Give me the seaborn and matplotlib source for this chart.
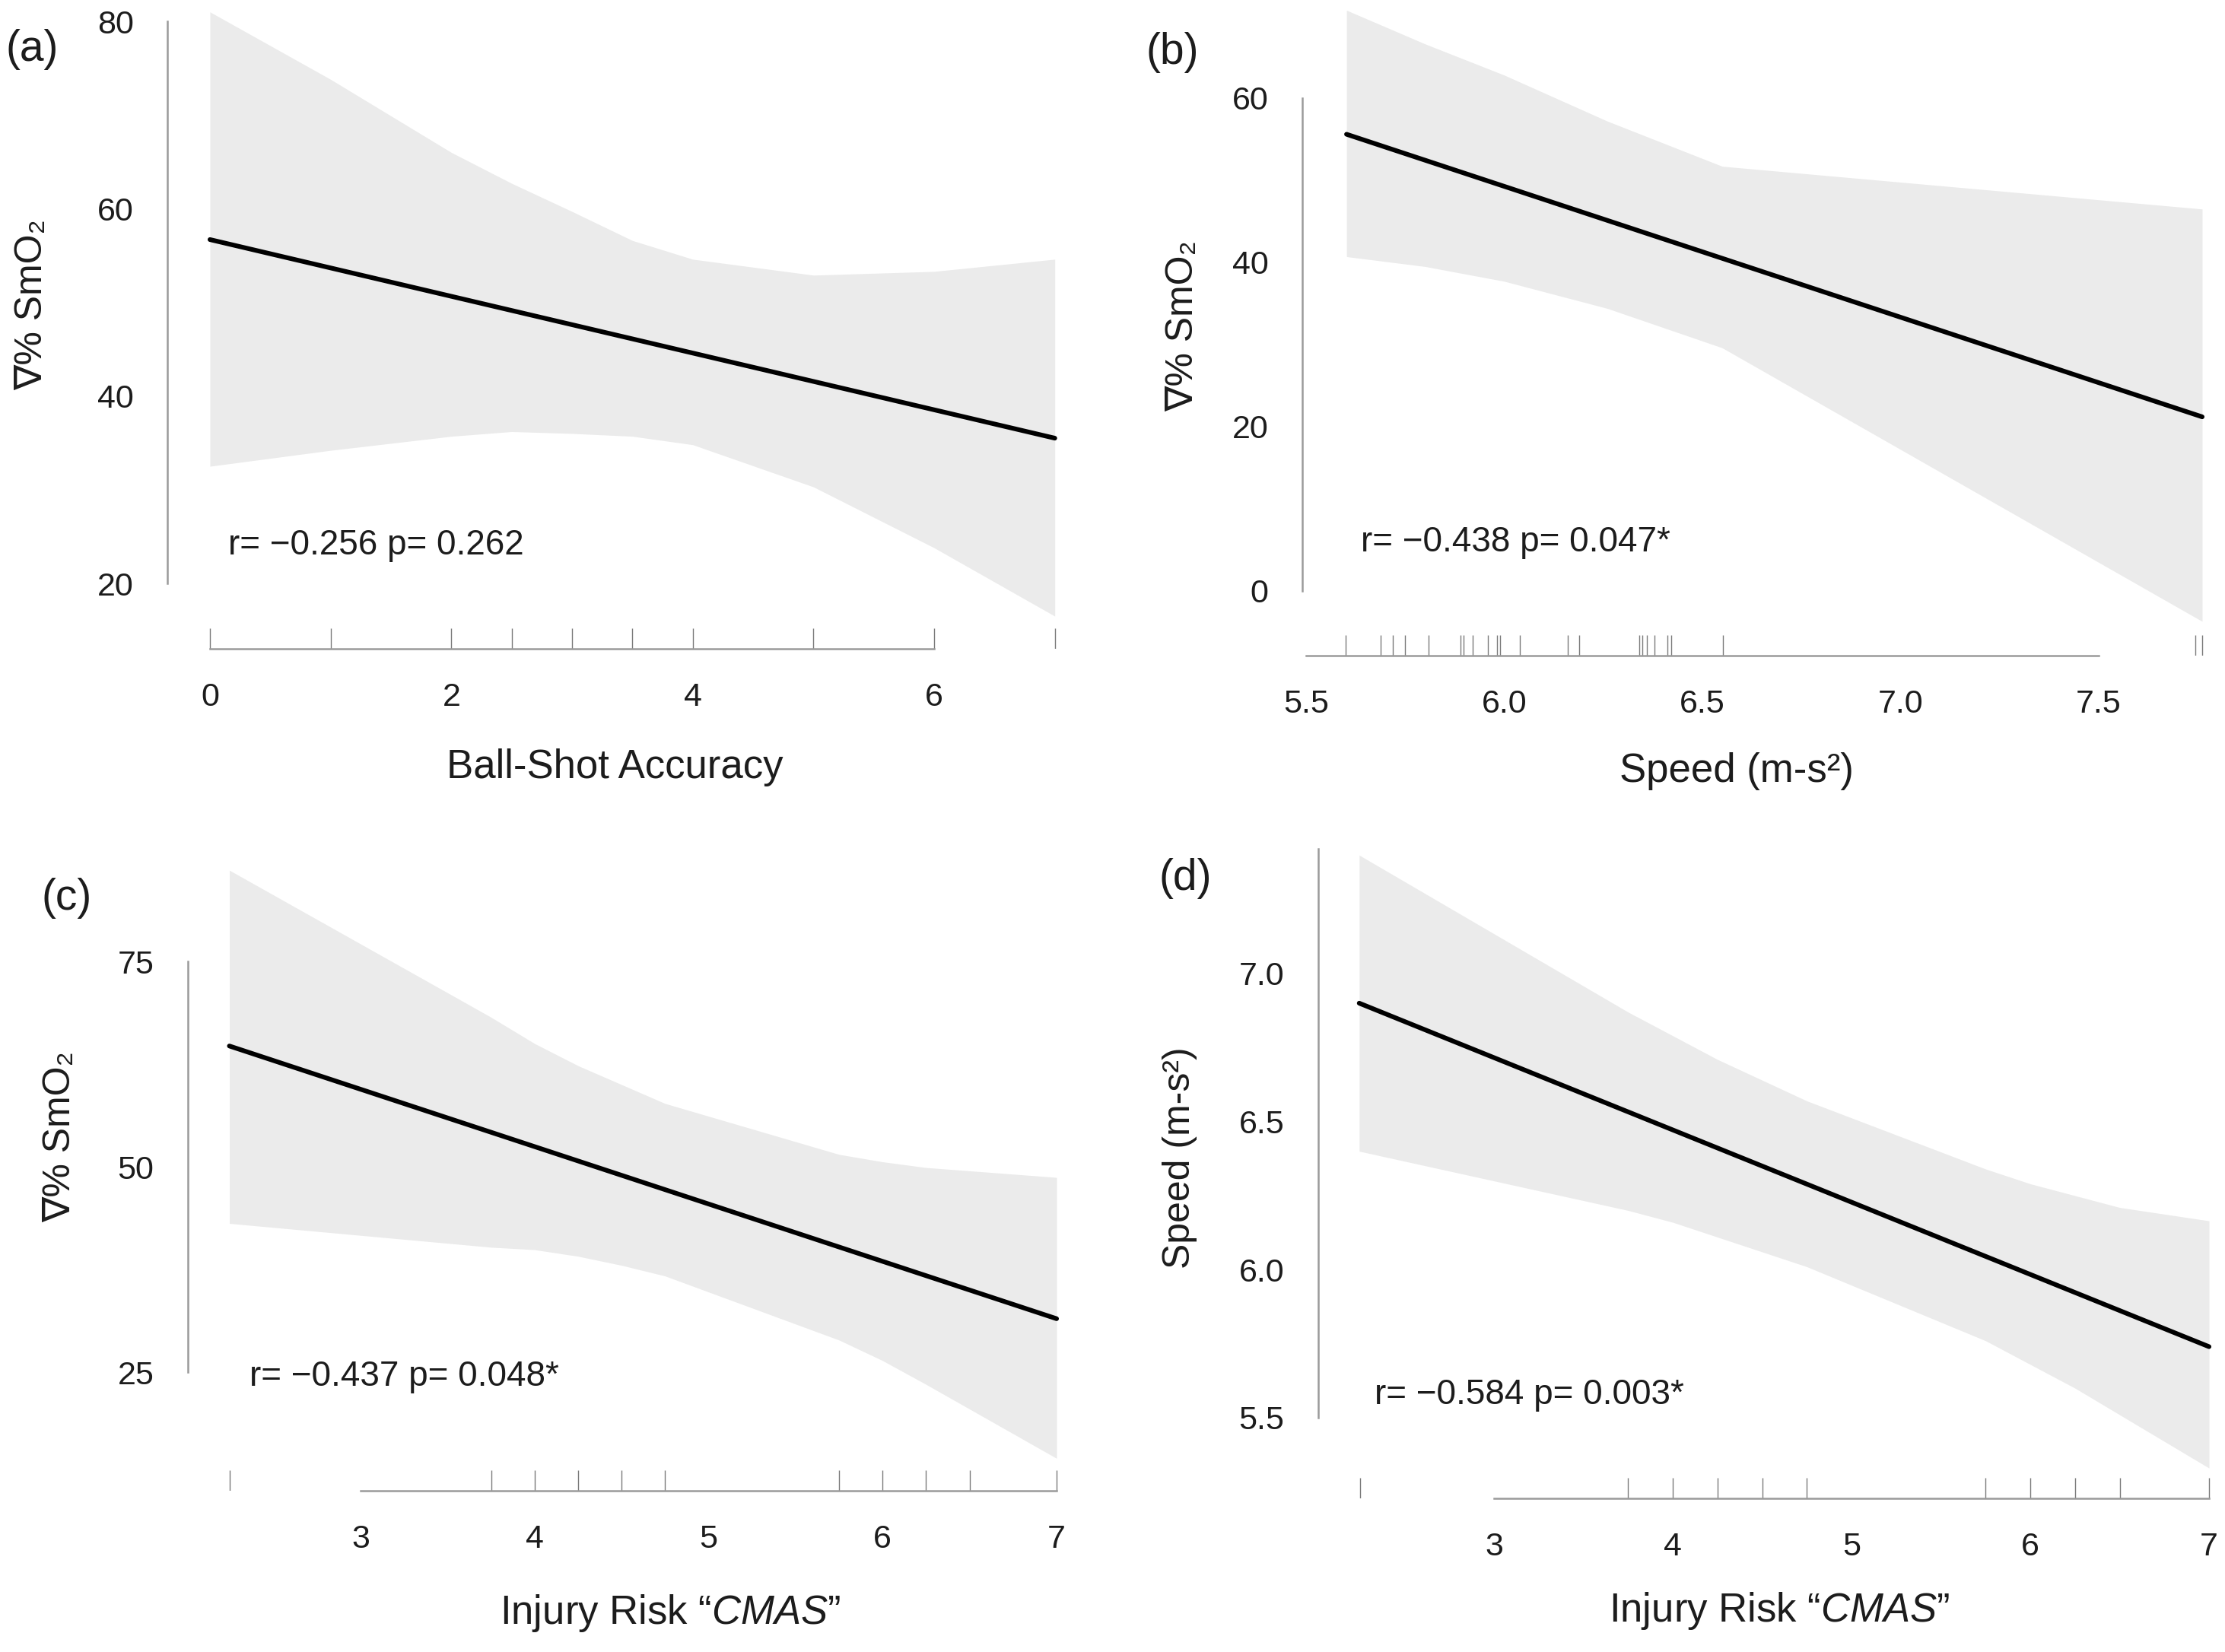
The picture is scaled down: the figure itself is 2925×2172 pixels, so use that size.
import numpy as np
import matplotlib
matplotlib.use("Agg")
import matplotlib.pyplot as plt
import seaborn as sns

# ---- data ----
# (a) Ball-Shot Accuracy vs dSmO2
a_rug = [0, 1, 2, 2.5, 3, 3.5, 4, 5, 6, 7]
a_line_x = [0, 7]
a_line_y = [56.7, 35.5]
a_band_x = [0, 1, 2, 2.5, 3, 3.5, 4, 5, 6, 7]
a_band_lo = [32.5, 34.2, 35.7, 36.2, 36.0, 35.7, 34.8, 30.3, 23.8, 16.5]
a_band_hi = [81.0, 73.8, 66.0, 62.7, 59.7, 56.6, 54.6, 52.9, 53.3, 54.6]

# (b) Speed vs dSmO2
b_rug = [5.600, 5.689, 5.718, 5.749, 5.809, 5.890, 5.898, 5.920, 5.959, 5.981,
         5.990, 6.040, 6.160, 6.189, 6.340, 6.349, 6.360, 6.380, 6.411, 6.421,
         6.552, 7.744, 7.761]
b_line_x = [5.602, 7.761]
b_line_y = [55.6, 21.2]
b_band_x = [5.602, 5.8, 6.0, 6.26, 6.55, 7.761]
b_band_lo = [40.7, 39.5, 37.7, 34.4, 29.6, -3.7]
b_band_hi = [70.7, 66.6, 62.8, 57.2, 51.7, 46.5]

# (c) CMAS vs dSmO2
cmas_rug = [2.25, 3.75, 4, 4.25, 4.5, 4.75, 5.75, 6, 6.25, 6.5, 7]
c_line_x = [2.246, 7]
c_line_y = [64.7, 31.5]
c_band_x = [2.246, 3.75, 4, 4.25, 4.5, 4.75, 5.75, 6, 6.25, 6.5, 7]
c_band_lo = [43.1, 40.2, 39.9, 39.1, 38.0, 36.7, 28.9, 26.4, 23.5, 20.5, 14.5]
c_band_hi = [86.1, 68.2, 65.0, 62.3, 60.0, 57.7, 51.5, 50.6, 49.9, 49.5, 48.7]

# (d) CMAS vs Speed
d_line_x = [2.246, 7]
d_line_y = [6.90, 5.74]
d_band_x = [2.246, 3.75, 4, 4.25, 4.5, 4.75, 5.75, 6, 6.25, 6.5, 7]
d_band_lo = [6.40, 6.20, 6.16, 6.11, 6.06, 6.01, 5.76, 5.68, 5.60, 5.51, 5.33]
d_band_hi = [7.40, 6.87, 6.79, 6.71, 6.64, 6.57, 6.34, 6.29, 6.25, 6.21, 6.165]

stats = ["r= \u22120.256 p= 0.262", "r= \u22120.438 p= 0.047*",
         "r= \u22120.437 p= 0.048*", "r= \u22120.584 p= 0.003*"]
xlabels = ["Ball-Shot Accuracy", "Speed (m-s\u00b2)",
           "Injury Risk \u201c$\\mathit{CMAS}$\u201d", "Injury Risk \u201c$\\mathit{CMAS}$\u201d"]
ylabels = ["\u2207% SmO\u2082", "\u2207% SmO\u2082", "\u2207% SmO\u2082", "Speed (m-s\u00b2)"]
letters = ["(a)", "(b)", "(c)", "(d)"]

sns.set_theme(style="white")
plt.rcParams["font.family"] = ["Liberation Sans", "DejaVu Sans"]
plt.rcParams["mathtext.fontset"] = "custom"
plt.rcParams["mathtext.rm"] = "Liberation Sans"
plt.rcParams["mathtext.it"] = "Liberation Sans:italic"

W, H = 2925, 2172
fig = plt.figure(figsize=(W / 100, H / 100), dpi=100)
fig.patch.set_facecolor("white")

AXC = "#9a9a9a"
TXT = "#1c1c1c"


def add_panel(box, xref, yref):
    # box = left, right, top, bottom in pixels; refs map values to pixels
    left, right, top, bottom = box
    (xv1, xp1), (xv2, xp2) = xref
    sx = (xp2 - xp1) / (xv2 - xv1)
    (yv1, yp1), (yv2, yp2) = yref
    sy = (yp2 - yp1) / (yv2 - yv1)
    ax = fig.add_axes([left / W, 1 - bottom / H, (right - left) / W, (bottom - top) / H])
    ax.set_xlim(xv1 + (left - xp1) / sx, xv1 + (right - xp1) / sx)
    ax.set_ylim(yv1 + (bottom - yp1) / sy, yv1 + (top - yp1) / sy)
    return ax, 27 / (bottom - top)


def draw(ax, rugh, bx, lo, hi, lx, ly, rug, xticks, yticks, ybounds, xfmt, yfmt):
    lims = ax.get_xlim(), ax.get_ylim()
    ax.fill_between(bx, lo, hi, color="#ebebeb", lw=0)
    sns.lineplot(x=lx, y=ly, ax=ax, color="black", lw=4.4)
    sns.rugplot(x=rug, ax=ax, height=rugh, color="#4d4d4d", alpha=0.75,
                lw=2.4, expand_margins=False)
    ax.set_xlim(lims[0])
    ax.set_ylim(lims[1])
    ax.set_xticks(xticks)
    ax.set_yticks(yticks)
    ax.set_xticklabels([xfmt.format(v) for v in xticks])
    ax.set_yticklabels([yfmt.format(v) for v in yticks])
    for s in ["top", "right"]:
        ax.spines[s].set_visible(False)
    for s in ["left", "bottom"]:
        ax.spines[s].set_color(AXC)
        ax.spines[s].set_linewidth(1.8)
    ax.spines["left"].set_bounds(*ybounds)
    ax.spines["bottom"].set_bounds(xticks[0], xticks[-1])
    ax.tick_params(direction="out", length=16, width=1.8, color=AXC,
                   labelsize=31, labelcolor=TXT, pad=16)
    ax.tick_params(axis="x", colors="#707070", labelcolor=TXT)
    ax.set_xlabel("")
    ax.set_ylabel("")
    ax.patch.set_alpha(0)


ax, rh = add_panel((220, 1400, 5, 853), ((0, 276), (6, 1228)), ((80, 28), (20, 767)))
draw(ax, rh, a_band_x, a_band_lo, a_band_hi, a_line_x, a_line_y, a_rug,
     [0, 2, 4, 6], [20, 40, 60, 80], (20, 80), "{:g}", "{:g}")

ax, rh = add_panel((1712, 2910, 5, 862), ((5.5, 1717), (7.5, 2759)), ((60, 129), (0, 777)))
draw(ax, rh, b_band_x, b_band_lo, b_band_hi, b_line_x, b_line_y, b_rug,
     [5.5, 6.0, 6.5, 7.0, 7.5], [0, 20, 40, 60], (0, 60), "{:.1f}", "{:g}")

ax, rh = add_panel((247, 1400, 1120, 1960), ((3, 474), (7, 1389)), ((75, 1264), (25, 1804)))
draw(ax, rh, c_band_x, c_band_lo, c_band_hi, c_line_x, c_line_y, cmas_rug,
     [3, 4, 5, 6, 7], [25, 50, 75], (25, 75), "{:g}", "{:g}")

ax, rh = add_panel((1733, 2915, 1100, 1970), ((3, 1964), (7, 2904)), ((7.0, 1280), (5.5, 1864)))
draw(ax, rh, d_band_x, d_band_lo, d_band_hi, d_line_x, d_line_y, cmas_rug,
     [3, 4, 5, 6, 7], [5.5, 6.0, 6.5, 7.0], (5.5, 7.42), "{:g}", "{:.1f}")


def ftext(x, y, s, **kw):
    fig.text(x / W, 1 - y / H, s, color=TXT, **kw)


# x labels, y labels, panel letters, stats
for (x, y), s in zip([(808, 1009), (2283, 1014), (881, 2121), (2339, 2118)], xlabels):
    ftext(x, y, s, fontsize=38, ha="center", va="center")
for (x, y), s in zip([(42, 401), (1555, 429), (79, 1495), (1551, 1522)], ylabels):
    ftext(x, y, s, fontsize=36, ha="center", va="center", rotation=90)
for (x, y), s in zip([(42, 65), (1541, 69), (88, 1181), (1558, 1155)], letters):
    ftext(x, y, s, fontsize=41, ha="center", va="center")
for (x, y), s in zip([(300, 717), (1789, 713), (328, 1810), (1807, 1834)], stats):
    ftext(x, y, s, fontsize=33, ha="left", va="center")

fig.savefig("out.png", dpi=100, facecolor="white")
